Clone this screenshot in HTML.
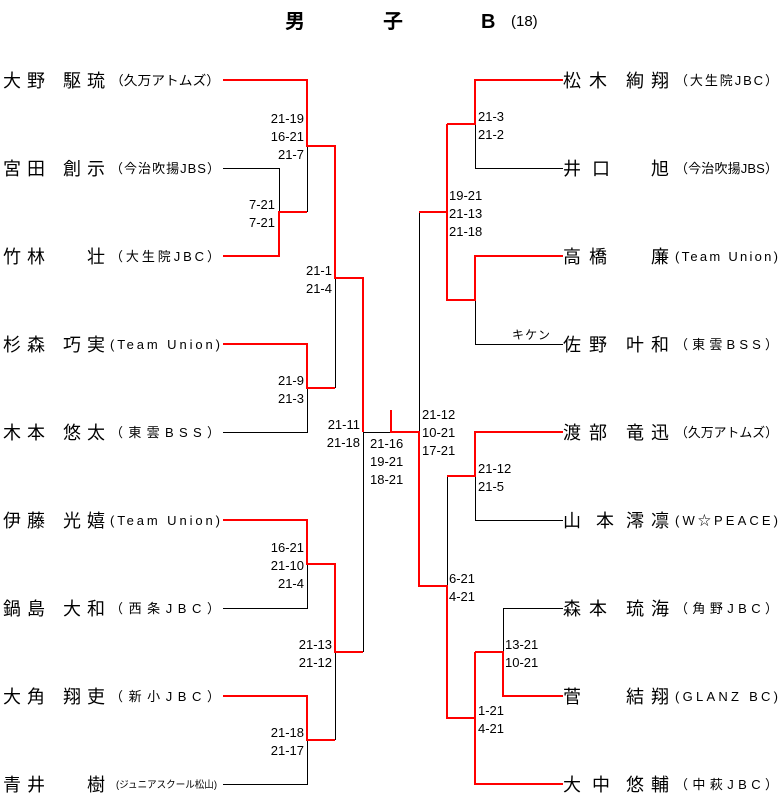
<!DOCTYPE html>
<html><head><meta charset="utf-8"><style>
html,body{margin:0;padding:0;background:#fff;}
svg{display:block;}
text{font-family:"Liberation Sans","Noto Sans CJK JP",sans-serif;fill:#000;}
.n{font-size:18px;}
.a{font-size:13px;}
.s{font-size:13px;}
</style></head><body>
<svg width="783" height="807" viewBox="0 0 783 807" xmlns="http://www.w3.org/2000/svg">
<rect width="783" height="807" fill="#fff"/>
<!-- title -->
<g style="font-weight:bold;font-size:20px">
<text x="285" y="28">男</text><text x="383" y="28">子</text><text x="481" y="28">B</text>
</g>
<text x="511" y="26" style="font-size:15px">(18)</text>

<!-- black lines -->
<g stroke="#000" stroke-width="1" fill="none" shape-rendering="crispEdges">
<path d="M223 168.5 H279.5 V212"/>
<path d="M307.5 146 V212"/>
<path d="M335.5 278 V388"/>
<path d="M223 432.5 H307.5 V388"/>
<path d="M363.5 432 V652"/>
<path d="M363 432.5 H391"/>
<path d="M223 608.5 H307.5 V564"/>
<path d="M335.5 652 V740"/>
<path d="M223 784.5 H307.5 V740"/>
<path d="M419.5 212 V432"/>
<path d="M475.5 124 V168.5 H563"/>
<path d="M475.5 300 V344.5 H563"/>
<path d="M447.5 476 V586"/>
<path d="M475.5 476 V520.5 H563"/>
<path d="M503.5 652 V608.5 H563"/>
</g>
<!-- red lines -->
<g stroke="#f00" stroke-width="2" fill="none" shape-rendering="crispEdges">
<path d="M223 80 H307 V146 H335 V278 H363 V432"/>
<path d="M223 256 H279 V212 H307"/>
<path d="M223 344 H307 V388 H335"/>
<path d="M223 520 H307 V564 H335 V652 H363"/>
<path d="M223 696 H307 V740 H335"/>
<path d="M391 410 V432 H419 V586 H447 V718 H475"/>
<path d="M475 652 V784 H563"/>
<path d="M475 652 H503 V696 H563"/>
<path d="M419 212 H447"/>
<path d="M447 124 V300 H475 V256 H563"/>
<path d="M447 124 H475 V80 H563"/>
<path d="M447 476 H475 V432 H563"/>
</g>

<!-- left names -->
<g class="n">
<text x="3" y="87">大</text><text x="27" y="87">野</text><text x="63" y="87">駆</text><text x="87" y="87">琉</text>
<text x="3" y="175">宮</text><text x="27" y="175">田</text><text x="63" y="175">創</text><text x="87" y="175">示</text>
<text x="3" y="263">竹</text><text x="27" y="263">林</text><text x="87" y="263">壮</text>
<text x="3" y="351">杉</text><text x="27" y="351">森</text><text x="63" y="351">巧</text><text x="87" y="351">実</text>
<text x="3" y="439">木</text><text x="27" y="439">本</text><text x="63" y="439">悠</text><text x="87" y="439">太</text>
<text x="3" y="527">伊</text><text x="27" y="527">藤</text><text x="63" y="527">光</text><text x="87" y="527">嬉</text>
<text x="3" y="615">鍋</text><text x="27" y="615">島</text><text x="63" y="615">大</text><text x="87" y="615">和</text>
<text x="3" y="703">大</text><text x="27" y="703">角</text><text x="63" y="703">翔</text><text x="87" y="703">吏</text>
<text x="3" y="791">青</text><text x="27" y="791">井</text><text x="87" y="791">樹</text>
</g>
<g class="a">
<text x="110" y="85" textLength="110" lengthAdjust="spacingAndGlyphs">（久万アトムズ）</text>
<text x="110" y="173" textLength="110" lengthAdjust="spacing">（今治吹揚JBS）</text>
<text x="110" y="261" textLength="110" lengthAdjust="spacing">（大生院JBC）</text>
<text x="110" y="349" textLength="110" lengthAdjust="spacing">(Team  Union)</text>
<text x="110" y="437" textLength="110" lengthAdjust="spacing">（東雲BSS）</text>
<text x="110" y="525" textLength="110" lengthAdjust="spacing">(Team  Union)</text>
<text x="110" y="613" textLength="110" lengthAdjust="spacing">（西条JBC）</text>
<text x="110" y="701" textLength="110" lengthAdjust="spacing">（新小JBC）</text>
<text x="116" y="788" textLength="101" lengthAdjust="spacingAndGlyphs" style="font-size:10px">(ジュニアスクール松山)</text>
</g>

<!-- right names -->
<g class="n">
<text x="563" y="87">松</text><text x="589" y="87">木</text><text x="626" y="87">絢</text><text x="651" y="87">翔</text>
<text x="563" y="175">井</text><text x="592" y="175">口</text><text x="651" y="175">旭</text>
<text x="563" y="263">高</text><text x="589" y="263">橋</text><text x="651" y="263">廉</text>
<text x="563" y="351">佐</text><text x="589" y="351">野</text><text x="626" y="351">叶</text><text x="651" y="351">和</text>
<text x="563" y="439">渡</text><text x="589" y="439">部</text><text x="626" y="439">竜</text><text x="651" y="439">迅</text>
<text x="563" y="527">山</text><text x="596" y="527">本</text><text x="626" y="527">澪</text><text x="651" y="527">凛</text>
<text x="563" y="615">森</text><text x="589" y="615">本</text><text x="626" y="615">琉</text><text x="651" y="615">海</text>
<text x="563" y="703">菅</text><text x="626" y="703">結</text><text x="651" y="703">翔</text>
<text x="563" y="791">大</text><text x="592" y="791">中</text><text x="626" y="791">悠</text><text x="651" y="791">輔</text>
</g>
<g class="a">
<text x="675" y="85" textLength="103" lengthAdjust="spacing">（大生院JBC）</text>
<text x="675" y="173" textLength="103" lengthAdjust="spacing">（今治吹揚JBS）</text>
<text x="675" y="261" textLength="103" lengthAdjust="spacing">(Team  Union)</text>
<text x="675" y="349" textLength="103" lengthAdjust="spacing">（東雲BSS）</text>
<text x="675" y="437" textLength="103" lengthAdjust="spacingAndGlyphs">（久万アトムズ）</text>
<text x="675" y="525" textLength="103" lengthAdjust="spacing">(W☆PEACE)</text>
<text x="675" y="613" textLength="103" lengthAdjust="spacing">（角野JBC）</text>
<text x="675" y="701" textLength="103" lengthAdjust="spacing">(GLANZ BC)</text>
<text x="675" y="789" textLength="103" lengthAdjust="spacing">（中萩JBC）</text>
</g>
<text x="512" y="339" style="font-size:12px" textLength="38" lengthAdjust="spacing">キケン</text>

<!-- scores -->
<g class="s" text-anchor="end">
<text x="304" y="123">21-19</text><text x="304" y="141">16-21</text><text x="304" y="159">21-7</text>
<text x="275" y="209">7-21</text><text x="275" y="227">7-21</text>
<text x="332" y="275">21-1</text><text x="332" y="293">21-4</text>
<text x="304" y="385">21-9</text><text x="304" y="403">21-3</text>
<text x="360" y="429">21-11</text><text x="360" y="447">21-18</text>
<text x="304" y="552">16-21</text><text x="304" y="570">21-10</text><text x="304" y="588">21-4</text>
<text x="332" y="649">21-13</text><text x="332" y="667">21-12</text>
<text x="304" y="737">21-18</text><text x="304" y="755">21-17</text>
</g>
<g class="s">
<text x="370" y="448">21-16</text><text x="370" y="466">19-21</text><text x="370" y="484">18-21</text>
<text x="422" y="419">21-12</text><text x="422" y="437">10-21</text><text x="422" y="455">17-21</text>
<text x="478" y="121">21-3</text><text x="478" y="139">21-2</text>
<text x="449" y="200">19-21</text><text x="449" y="218">21-13</text><text x="449" y="236">21-18</text>
<text x="478" y="473">21-12</text><text x="478" y="491">21-5</text>
<text x="449" y="583">6-21</text><text x="449" y="601">4-21</text>
<text x="505" y="649">13-21</text><text x="505" y="667">10-21</text>
<text x="478" y="715">1-21</text><text x="478" y="733">4-21</text>
</g>
</svg>
</body></html>
